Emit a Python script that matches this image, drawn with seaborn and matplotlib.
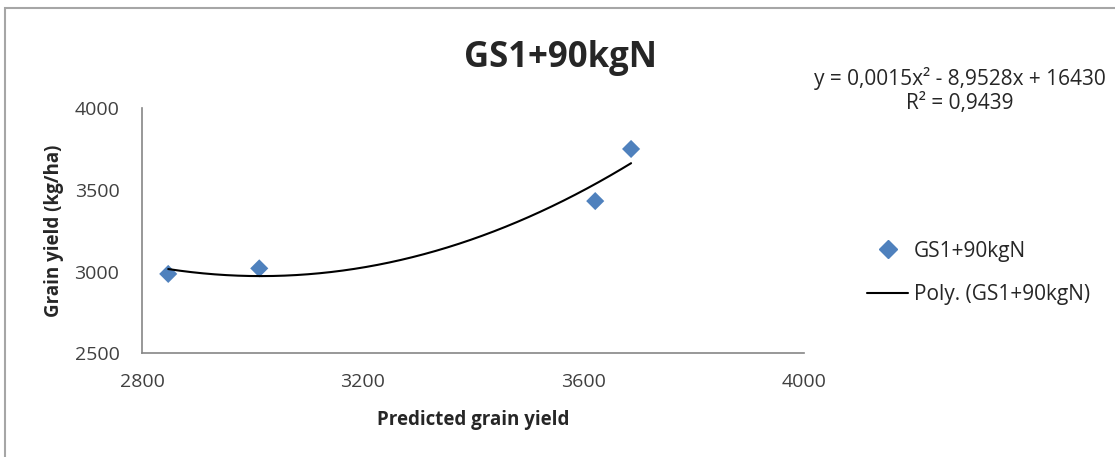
import numpy as np
import pandas as pd
import matplotlib
matplotlib.use("Agg")
import matplotlib.pyplot as plt
import seaborn as sns
from matplotlib.patches import Rectangle
from matplotlib.lines import Line2D

# data
predicted = [2847, 3012, 3621, 3686]
grain_yield = [2986, 3020, 3432, 3751]
series_name = "GS1+90kgN"
trend_name = "Poly. (GS1+90kgN)"
equation = "y = 0,0015x² - 8,9528x + 16430"
r2_text = "R² = 0,9439"
x_ticks = [2800, 3200, 3600, 4000]
y_ticks = [2500, 3000, 3500, 4000]

sns.set_style("white")
plt.rcParams['font.family'] = ['Open Sans', 'DejaVu Sans']

W, H = 1115, 457
fig = plt.figure(figsize=(W / 100, H / 100), dpi=100)
ax = fig.add_axes([142.3 / W, 1 - 353.3 / H, 662 / W, 245 / H])

df = pd.DataFrame({"x": predicted, "y": grain_yield})
sns.scatterplot(data=df, x="x", y="y", ax=ax, marker="D", s=85,
                color="#4F81BD", edgecolor="none", linewidth=0, zorder=3)

coef = np.polyfit(predicted, grain_yield, 2)
xs = np.linspace(min(predicted), max(predicted), 200)
ax.plot(xs, np.polyval(coef, xs), color="black", lw=1.5, zorder=4)

ax.set_xlim(x_ticks[0], x_ticks[-1])
ax.set_ylim(y_ticks[0], y_ticks[-1])
ax.set_xticks(x_ticks)
ax.set_yticks(y_ticks)
ax.tick_params(axis="both", which="both", direction="out", length=5, width=1,
               color="#868686", labelsize=14, labelcolor="#404040")
ax.tick_params(axis="x", pad=9.5)
ax.tick_params(axis="y", pad=11.5)
for s in ["top", "right"]:
    ax.spines[s].set_visible(False)
for s in ["left", "bottom"]:
    ax.spines[s].set_color("#868686")
    ax.spines[s].set_linewidth(1.2)
ax.grid(False)

ax.set_xlabel("Predicted grain yield", fontsize=13.5, fontweight="bold")
ax.set_ylabel("Grain yield (kg/ha)", fontsize=13.5, fontweight="bold")
ax.xaxis.label.set_va("center")
ax.yaxis.label.set_va("center")
ax.xaxis.set_label_coords((473 - 142.3) / 662, (353.3 - 420) / 245)
ax.yaxis.set_label_coords((54 - 142.3) / 662, (353.3 - 231) / 245)

fig.text(561 / W, 1 - 67 / H, series_name, fontsize=25, fontweight="bold",
         ha="center", va="baseline")
fig.text(960 / W, 1 - 78 / H, equation, fontsize=15, ha="center", va="center")
fig.text(960 / W, 1 - 104 / H, r2_text, fontsize=15, ha="center", va="center")

handles = [
    Line2D([], [], marker="D", color="#4F81BD", linestyle="none", markersize=9),
    Line2D([], [], color="black", lw=1.5),
]
fig.legend(handles, [series_name, trend_name], loc="center left",
           bbox_to_anchor=(848 / W, 1 - 273 / H), frameon=False,
           fontsize=15, handlelength=2.0, handletextpad=0.25, labelspacing=1.1)

fig.add_artist(Rectangle((5 / W, -0.1), 1.2, 1 - 8 / H + 0.1,
                         transform=fig.transFigure, fill=False,
                         edgecolor="#a6a6a6", lw=1.5))

fig.savefig("out.png", dpi=100)
